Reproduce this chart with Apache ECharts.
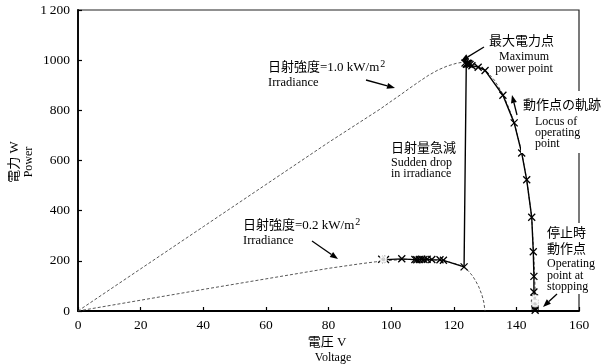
<!DOCTYPE html>
<html><head><meta charset="utf-8">
<script src="https://cdn.jsdelivr.net/npm/echarts@6/dist/echarts.min.js"></script>
<style>html,body{margin:0;padding:0;background:#fff}#c{width:609px;height:364px}</style>
</head><body><div id="c"></div>
<script>
// ---- data ----
const xTicks = [0, 20, 40, 60, 80, 100, 120, 140, 160];
const yTicks = [0, 200, 400, 600, 800, 1000, 1200];
// P-V curve at 1.0 kW/m2 (dashed)
const curve10V = [0, 20, 40, 60, 80, 96.5, 100, 103, 106, 109, 112, 115, 118, 121, 123, 125, 127, 129, 131, 133, 135.7, 137.5, 139.3, 141.7, 143.3, 144.9, 145.5, 145.9, 146.1, 146.2];
const curve10P = [0, 168, 336, 504, 672, 805, 836, 862, 889, 915, 940, 961, 977, 988, 992, 990, 982, 968, 948, 920, 865, 812, 752, 632, 523, 374, 236, 120, 40, 0];
// P-V curve at 0.2 kW/m2 (dashed)
const curve02V = [0, 20, 40, 60, 80, 85, 90, 95, 100, 105, 110, 115, 118, 121, 123, 124.5, 126, 127, 128, 129, 129.6, 130];
const curve02P = [0, 43, 86, 128, 170, 179, 188, 196, 202, 206, 206, 202, 197, 187, 176, 162, 140, 120, 96, 64, 35, 0];
// locus of operating point (solid with markers)
const locusV = [146.0, 146.0, 146.0, 145.9, 145.8, 145.6, 145.6, 145.4, 144.9, 143.3, 141.7, 139.3, 135.7, 130.0, 127.8, 125.8, 125.2, 124.8, 124.4, 124.0, 123.6, 124.2, 124.6, 123.3, 116.7, 115.6, 113.0, 111.5, 110.5, 109.8, 109.0, 108.2, 107.6, 103.4, 98.2, 97.0];
const locusP = [3, 10, 20, 32, 52, 76, 138, 236, 374, 523, 630, 750, 860, 959, 972, 978, 983, 987, 988, 985, 989, 984, 986, 176, 202, 204, 205, 206, 205, 206, 205, 204, 205, 208, 205, 206];
const circleV = [146.0, 146.0, 97.5];
const circleP = [30, 50, 206];

const FONT = "'Liberation Serif', 'Noto Sans CJK JP', serif";
const zip = (a, b) => a.map((v, i) => [v, b[i]]);

const chart = echarts.init(document.getElementById('c'), null, {renderer: 'canvas'});

function arrow(x1, y1, x2, y2) {
  const dx = x2 - x1, dy = y2 - y1, L = Math.hypot(dx, dy), ux = dx / L, uy = dy / L;
  const hl = 8, hw = 3;
  const bx = x2 - ux * hl, by = y2 - uy * hl;
  return [
    {type: 'line', z: 100, shape: {x1, y1, x2: bx, y2: by}, style: {stroke: '#000', lineWidth: 1.3}},
    {type: 'polygon', z: 100, shape: {points: [[x2, y2], [bx - uy * hw, by + ux * hw], [bx + uy * hw, by - ux * hw]]}, style: {fill: '#000'}}
  ];
}
function txt(s, x, y, size, align) {
  return {type: 'text', z: 100, x, y, style: {text: s, font: size + 'px ' + FONT, fill: '#000', align: align || 'left', verticalAlign: 'middle'}};
}
function supTxt(s, x, y) {
  return {type: 'text', z: 100, x, y, style: {
    text: '{n|' + s + '}{s|2}', fill: '#000', align: 'left', verticalAlign: 'middle',
    rich: {n: {font: '13px ' + FONT, fill: '#000'}, s: {font: '10px ' + FONT, fill: '#000', verticalAlign: 'top', padding: [0, 0, 8, 1]}}
  }};
}

const graphics = [
  {type: 'rect', z: 90, shape: {x: 521, y: 91, width: 88, height: 62}, style: {fill: '#fff'}},
  {type: 'rect', z: 90, shape: {x: 544, y: 223, width: 65, height: 71}, style: {fill: '#fff'}},
  supTxt('日射強度=1.0 kW/m', 268, 68),
  txt('Irradiance', 268, 83, 12.5),
  ...arrow(366, 80, 395, 88),
  supTxt('日射強度=0.2 kW/m', 243, 226),
  txt('Irradiance', 243, 241, 12.5),
  ...arrow(312, 241, 338, 259),
  txt('最大電力点', 489, 42, 13),
  txt('Maximum', 524, 57, 12, 'center'),
  txt('power point', 524, 69, 12, 'center'),
  ...arrow(484, 47, 461, 61),
  txt('動作点の軌跡', 523, 106, 13),
  txt('Locus of', 535, 122, 12),
  txt('operating', 535, 133, 12),
  txt('point', 535, 144, 12),
  ...arrow(517, 115, 512, 95),
  txt('日射量急減', 391, 149, 13),
  txt('Sudden drop', 391, 163, 12),
  txt('in irradiance', 391, 174, 12),
  txt('停止時', 547, 234, 13),
  txt('動作点', 547, 250, 13),
  txt('Operating', 547, 264, 12),
  txt('point at', 547, 276, 12),
  txt('stopping', 547, 287, 12),
  ...arrow(557, 294, 543, 307),
  txt('電圧 V', 327, 343, 13, 'center'),
  txt('Voltage', 333, 358, 12, 'center'),
  {type: 'text', z: 100, x: 15, y: 162, rotation: Math.PI / 2, style: {text: '電力 W', font: '13px ' + FONT, fill: '#000', align: 'center', verticalAlign: 'middle'}},
  {type: 'text', z: 100, x: 29, y: 162, rotation: Math.PI / 2, style: {text: 'Power', font: '12px ' + FONT, fill: '#000', align: 'center', verticalAlign: 'middle'}}
];

const crossPath = 'path://M0,0L10,10M10,0L0,10';

chart.setOption({
  animation: false,
  backgroundColor: '#fff',
  grid: {left: 78, right: 30, top: 10, bottom: 53, show: true, borderColor: '#222', borderWidth: 1.2, backgroundColor: 'transparent'},
  xAxis: {
    type: 'value', min: 0, max: 160, interval: 20,
    axisLine: {onZero: false, lineStyle: {color: '#000', width: 1.8}},
    axisTick: {inside: true, length: 4, lineStyle: {color: '#000', width: 1.2}},
    axisLabel: {margin: 8, color: '#000', fontFamily: FONT, fontSize: 13.5, formatter: v => xTicks.includes(v) ? String(v) : ''},
    splitLine: {show: false}
  },
  yAxis: {
    type: 'value', min: 0, max: 1200, interval: 200,
    axisLine: {show: true, onZero: false, lineStyle: {color: '#000', width: 1.8}},
    axisTick: {show: true, inside: true, length: 4, lineStyle: {color: '#000', width: 1.2}},
    axisLabel: {margin: 8, color: '#000', fontFamily: FONT, fontSize: 13.5, formatter: v => yTicks.includes(v) ? (v >= 1200 ? '1\u2009200' : String(v)) : ''},
    splitLine: {show: false}
  },
  series: [
    {type: 'line', data: zip(curve10V, curve10P), symbol: 'none', smooth: false, lineStyle: {color: '#444', width: 0.9, type: [3, 2]}, z: 2},
    {type: 'line', data: zip(curve02V, curve02P), symbol: 'none', smooth: false, lineStyle: {color: '#444', width: 0.9, type: [3, 2]}, z: 2},
    {type: 'line', data: zip(locusV, locusP), symbol: crossPath, symbolSize: 7,
      itemStyle: {color: '#000', borderColor: '#000', borderWidth: 1.3},
      lineStyle: {color: '#000', width: 1.4}, z: 3},
    {type: 'scatter', data: zip(circleV, circleP), symbol: 'emptyCircle', symbolSize: 6,
      itemStyle: {color: '#fff', borderColor: '#000', borderWidth: 1.2}, z: 4}
  ],
  graphic: graphics
});
</script>
</body></html>
